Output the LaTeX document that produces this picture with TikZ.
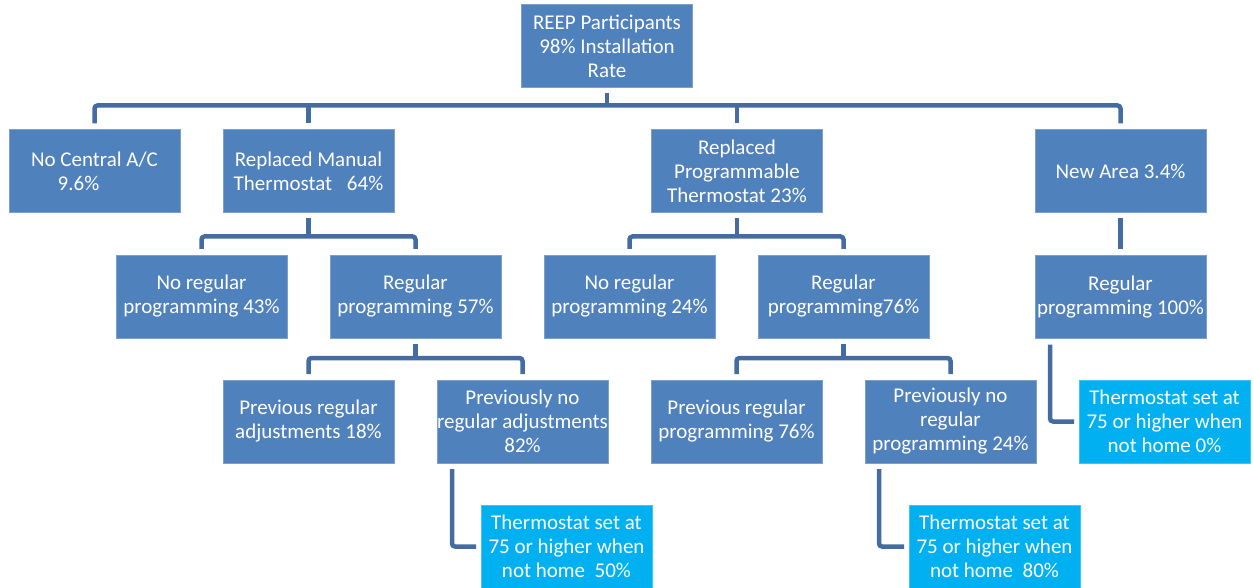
\documentclass[tikz,border=0pt]{standalone}
\usepackage{fontspec}
\setmainfont{Carlito}
\usepackage{tikz}
\usetikzlibrary{positioning, calc}
\definecolor{boxBlue}{RGB}{79,129,189}
\definecolor{lineBlue}{RGB}{68,108,163}
\definecolor{setCyan}{RGB}{0,176,240}
\tikzset{
    orgbox/.style={
        rectangle,
        fill=boxBlue,
        draw=boxBlue!75!white,
        line width=0.6pt,
        text=white,
        minimum width=171pt,
        minimum height=83pt,
        inner sep=0pt,
        outer sep=0pt,
        align=center,
        font=\fontsize{21}{24}\selectfont
    },
    setbox/.style={
        orgbox,
        fill=setCyan,
        draw=setCyan!75!white
    },
    conn/.style={
        draw=lineBlue,
        line width=4.5pt,
        rounded corners=3pt
    }
}

\begin{document}
\begin{tikzpicture}[x=1pt, y=1pt]
                \useasboundingbox (0,0) rectangle (1254,-588);
                \node[orgbox] (root) at (607,-46) {REEP Participants\\98\% Installation\\Rate};
                \node[orgbox] (noac) at (94.5,-171) {No Central A/C\\9.6\%\hspace*{32pt}};
                \node[orgbox, right=43pt of noac] (manual) {Replaced Manual\\Thermostat\hspace{0.7em}64\%};
                \node[orgbox] (prog) at (737,-171) {Replaced\\Programmable\\Thermostat 23\%};
                \node[orgbox] (newarea) at (1120.5,-171) {New Area 3.4\%};

                \node[orgbox] (man-noreg) at (201.5,-296.5) {No regular\\programming 43\%};
                \node[orgbox, right=43pt of man-noreg] (man-reg) {Regular\\programming 57\%};
                \node[orgbox, right=43pt of man-reg] (prog-noreg) {No regular\\programming 24\%};
                \node[orgbox, right=43pt of prog-noreg] (prog-reg) {Regular\\programming76\%};
                \node[orgbox, below=43pt of newarea] (new-reg) {Regular\\programming 100\%};

                \node[orgbox] (man-prev) at (308.5,-421.5) {Previous regular\\adjustments 18\%};
                \node[orgbox, right=43pt of man-prev] (man-noprev) {Previously no\\regular adjustments\\82\%};
                \node[orgbox, right=43pt of man-noprev] (prog-prev) {Previous regular\\programming 76\%};
                \node[orgbox, right=43pt of prog-prev] (prog-noprev) {Previously no\\regular\\programming 24\%};
                \node[setbox, right=43pt of prog-noprev] (new-set) {Thermostat set at\\75 or higher when\\not home 0\%};

                \node[setbox] (man-set) at (566.5,-546.5) {Thermostat set at\\75 or higher when\\not home~~50\%};
                \node[setbox] (prog-set) at (994.5,-546.5) {Thermostat set at\\75 or higher when\\not home~~80\%};

                \coordinate (bus1) at ($(root.south)+(0,-18)$);
                \draw[conn] ([yshift=-6]root.south) -- (bus1);
                \draw[conn] ([yshift=6]noac.north) |- (bus1) -| ([yshift=6]newarea.north);
                \draw[conn] (bus1 -| manual) -- ([yshift=6]manual.north);
                \draw[conn] (bus1 -| prog) -- ([yshift=6]prog.north);

                \coordinate (bus2) at ($(manual.south)+(0,-24)$);
                \draw[conn] ([yshift=-6]manual.south) -- (bus2);
                \draw[conn] ([yshift=6]man-noreg.north) |- (bus2) -| ([yshift=6]man-reg.north);

                \coordinate (bus3) at ($(prog.south)+(0,-24)$);
                \draw[conn] ([yshift=-6]prog.south) -- (bus3);
                \draw[conn] ([yshift=6]prog-noreg.north) |- (bus3) -| ([yshift=6]prog-reg.north);

                \draw[conn] ([yshift=-6]newarea.south) -- ([yshift=6]new-reg.north);

                \coordinate (bus4) at ($(man-reg.south)+(0,-20)$);
                \draw[conn] ([yshift=-6]man-reg.south) -- (bus4);
                \draw[conn] ([yshift=6]man-prev.north) |- (bus4) -| ([yshift=6]man-noprev.north);

                \coordinate (bus5) at ($(prog-reg.south)+(0,-20)$);
                \draw[conn] ([yshift=-6]prog-reg.south) -- (bus5);
                \draw[conn] ([yshift=6]prog-prev.north) |- (bus5) -| ([yshift=6]prog-noprev.north);

                \draw[conn] ([xshift=15,yshift=-6]man-noprev.south west) |- ([xshift=-5]man-set.west);
                \draw[conn] ([xshift=14,yshift=-6]prog-noprev.south west) |- ([xshift=-5]prog-set.west);
                \draw[conn] ([xshift=15,yshift=-6]new-reg.south west) |- ([xshift=-5]new-set.west);
            \end{tikzpicture}
\end{document}
